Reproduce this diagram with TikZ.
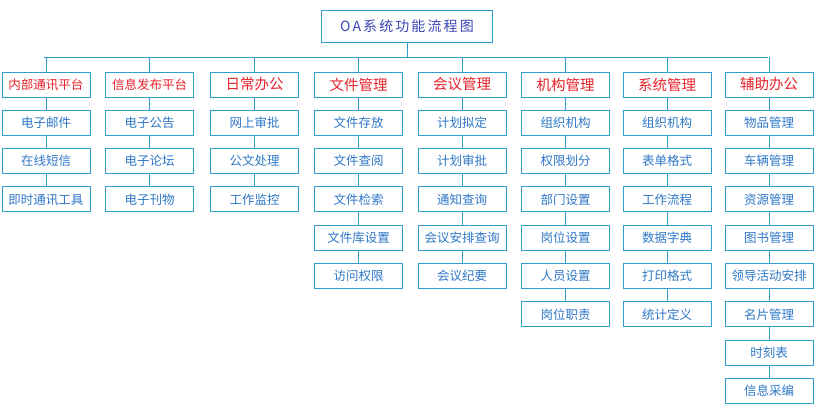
\documentclass[tikz,border=0pt]{standalone}
\usepackage{fontspec}
\usepackage{xcolor}
\usepackage{tikz}
\newfontfamily\cjk{Noto Sans CJK SC}
\definecolor{oaline}{HTML}{2E9FD0}
\definecolor{oaitem}{HTML}{2F78C8}
\definecolor{oahead}{HTML}{E8222A}
\definecolor{oatitle}{HTML}{3A46B4}

\begin{document}
\begin{tikzpicture}[x=1pt,y=-1pt,
		link/.style={draw=oaline,line width=1pt},
		box/.style={draw=oaline,line width=1pt,fill=white,minimum width=88pt,minimum height=25pt,
			inner sep=0pt,text=oaitem,font=\cjk\fontsize{12.5}{14}\selectfont},
		head/.style={box,text=oahead},
		bighead/.style={head,font=\cjk\fontsize{14.5}{16}\selectfont}]
			\useasboundingbox (0,0) rectangle (816,416);
			\node[box,minimum width=171pt,minimum height=32pt,text=oatitle,
				font=\cjk\fontsize{14}{16}\selectfont\addfontfeature{LetterSpace=15}] (title) at (407,26) {OA系统功能流程图};
			% column heads
			\node[head] (c1) at (46,84.5) {内部通讯平台};
			\node[head] (c2) at (149.5,84.5) {信息发布平台};
			\node[bighead] (c3) at (254.5,84.5) {日常办公};
			\node[bighead] (c4) at (358.5,84.5) {文件管理};
			\node[bighead] (c5) at (462,84.5) {会议管理};
			\node[bighead] (c6) at (565.5,84.5) {机构管理};
			\node[bighead] (c7) at (667,84.5) {系统管理};
			\node[bighead] (c8) at (769,84.5) {辅助办公};
			% items below each head
			\foreach \t [count=\i] in {电子邮件,在线短信,即时通讯工具}
				\node[box] (c1-\i) at (46,84.5+38.3*\i) {\t};
			\foreach \t [count=\i] in {电子公告,电子论坛,电子刊物}
				\node[box] (c2-\i) at (149.5,84.5+38.3*\i) {\t};
			\foreach \t [count=\i] in {网上审批,公文处理,工作监控}
				\node[box] (c3-\i) at (254.5,84.5+38.3*\i) {\t};
			\foreach \t [count=\i] in {文件存放,文件查阅,文件检索,文件库设置,访问权限}
				\node[box] (c4-\i) at (358.5,84.5+38.3*\i) {\t};
			\foreach \t [count=\i] in {计划拟定,计划审批,通知查询,会议安排查询,会议纪要}
				\node[box] (c5-\i) at (462,84.5+38.3*\i) {\t};
			\foreach \t [count=\i] in {组织机构,权限划分,部门设置,岗位设置,人员设置,岗位职责}
				\node[box] (c6-\i) at (565.5,84.5+38.3*\i) {\t};
			\foreach \t [count=\i] in {组织机构,表单格式,工作流程,数据字典,打印格式,统计定义}
				\node[box] (c7-\i) at (667,84.5+38.3*\i) {\t};
			\foreach \t [count=\i] in {物品管理,车辆管理,资源管理,图书管理,领导活动安排,名片管理,时刻表,信息采编}
				\node[box] (c8-\i) at (769,84.5+38.3*\i) {\t};
			% bus
			\coordinate (busL) at (44,57);
			\coordinate (busR) at (768,57);
			\draw[link] (busL) -- (busR);
			\draw[link] (title) -- (title |- busL);
			\foreach \c in {1,...,8}
				\draw[link] (c\c |- busL) -- (c\c);
			% chains
			\foreach \c/\n in {1/3,2/3,3/3,4/5,5/5,6/6,7/6,8/8} {
				\draw[link] (c\c) -- (c\c-1);
				\foreach \i [remember=\i as \j (initially 1)] in {2,...,\n}
					\draw[link] (c\c-\j) -- (c\c-\i);
			}
		\end{tikzpicture}
\end{document}
